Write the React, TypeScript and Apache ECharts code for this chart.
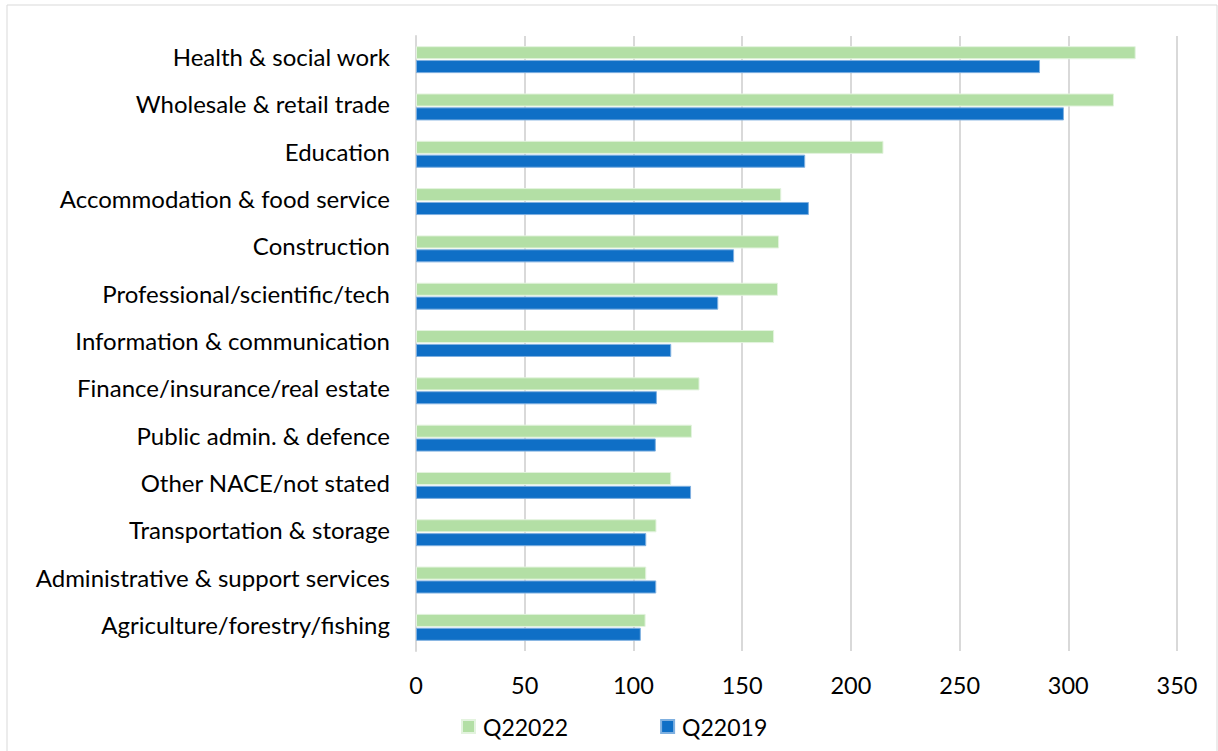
import React, { useEffect, useRef } from "react";
import * as echarts from "echarts";

const categories = [
  "Health & social work",
  "Wholesale & retail trade",
  "Education",
  "Accommodation & food service",
  "Construction",
  "Professional/scientific/tech",
  "Information & communication",
  "Finance/insurance/real estate",
  "Public admin. & defence",
  "Other NACE/not stated",
  "Transportation & storage",
  "Administrative & support services",
  "Agriculture/forestry/fishing",
];
const q2022 = [331, 321, 215, 168, 167, 166.5, 164.7, 130.4, 126.9, 117.4, 110.6, 105.9, 105.6];
const q2019 = [287, 298, 179, 180.7, 146.3, 139, 117.4, 110.8, 110.3, 126.5, 105.9, 110.5, 103.4];
const seriesNames = ["Q22022", "Q22019"];
const xTicks = { min: 0, max: 350, interval: 50 };

const FONT = "Lato";

export default function App() {
  const ref = useRef<HTMLDivElement>(null);
  useEffect(() => {
    if (!ref.current) return;
    const chart = echarts.init(ref.current, null, { renderer: "svg" });
    chart.setOption({
      animation: false,
      backgroundColor: "#ffffff",
      textStyle: { fontFamily: FONT },
      graphic: [
        {
          type: "rect",
          shape: { x: 7, y: 5, width: 1210, height: 750 },
          style: { fill: "none", stroke: "#d9d9d9", lineWidth: 1 },
          silent: true,
        },
      ],
      grid: { left: 416, right: 41, top: 36, bottom: 100, containLabel: false },
      legend: {
        top: 710,
        left: 456,
        itemWidth: 13,
        itemHeight: 13,
        itemGap: 92,
        icon: "rect",
        textStyle: { fontFamily: FONT, fontSize: 23, color: "#000", padding: [0, 0, 0, 3] },
        data: seriesNames,
      },
      xAxis: {
        type: "value",
        min: xTicks.min,
        max: xTicks.max,
        interval: xTicks.interval,
        axisLine: { show: false },
        axisTick: { show: false },
        splitLine: { show: true, lineStyle: { color: "#d9d9d9", width: 2 } },
        axisLabel: { fontFamily: FONT, fontSize: 23.5, color: "#000", margin: 22 },
      },
      yAxis: {
        type: "category",
        data: categories,
        inverse: true,
        axisLine: { show: true, lineStyle: { color: "#d9d9d9", width: 2 } },
        axisTick: { show: false },
        axisLabel: {
          fontFamily: FONT,
          fontSize: 24,
          color: "#000",
          margin: 26,
          formatter: (v: string) => "{a|" + v + "}",
          rich: {
            a: { fontFamily: FONT, fontSize: 24, color: "#000", padding: [0, 0, 6, 0] },
          },
        },
      },
      series: [
        {
          name: seriesNames[0],
          type: "bar",
          data: q2022,
          barGap: "6%",
          barCategoryGap: "43%",
          itemStyle: { color: "#b3dfa5", borderColor: "#e3f3de", borderWidth: 1 },
        },
        {
          name: seriesNames[1],
          type: "bar",
          data: q2019,
          itemStyle: { color: "#0f6fc6", borderColor: "#7fb0e0", borderWidth: 1 },
        },
      ],
    });
    return () => chart.dispose();
  }, []);
  return (
    <div
      ref={ref}
      style={{ position: "absolute", left: 0, top: 0, width: 1218, height: 751 }}
    />
  );
}
